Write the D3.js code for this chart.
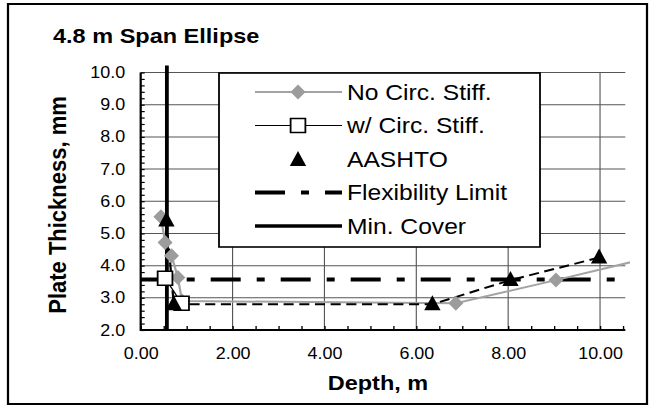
<!DOCTYPE html>
<html><head><meta charset="utf-8">
<script src="https://cdn.jsdelivr.net/npm/d3@7"></script>
<style>
body{margin:0;background:#fff}
svg{display:block}
text{font-family:"Liberation Sans",Arial,Helvetica,sans-serif;fill:#000}
</style>
</head><body>
<svg id="c" width="656" height="414"></svg>
<script>
// ---- data ----
const chartTitle = "4.8 m Span Ellipse";
const xTitle = "Depth, m";
const yTitle = "Plate Thickness, mm";
const depthTicks = [0, 2, 4, 6, 8, 10];
const thicknessTicks = [2, 3, 4, 5, 6, 7, 8, 9, 10];
const legendLabels = ["No Circ. Stiff.", "w/ Circ. Stiff.", "AASHTO", "Flexibility Limit", "Min. Cover"];

const noCircDepth = [0.44, 0.53, 0.67, 0.81, 0.90, 6.86, 9.04, 11.0];
const noCircThk   = [5.52, 4.72, 4.31, 3.63, 2.90, 2.83, 3.55, 4.22];
const wCircDepth  = [0.53, 0.89];
const wCircThk    = [3.61, 2.83];
const aashtoDepth = [0.56, 0.72, 6.35, 8.05, 9.98];
const aashtoThk   = [5.40, 2.80, 2.80, 3.55, 4.25];
const flexLimitThk = 3.57;
const flexLimitDepth = [0, 10.55];
const minCoverDepth = 0.57;
const minCoverThk = [1.98, 10.22];

// ---- layout ----
const SX = 1.12;               // horizontal stretch of the original picture
const px = v => v / SX;
const svg = d3.select("#c");
const g = svg.append("g").attr("transform", `scale(${SX},1)`);

g.append("rect").attr("x", px(8)).attr("y", 4).attr("width", px(639)).attr("height", 400)
  .attr("fill", "#fff").attr("stroke", "#000").attr("stroke-width", 2);

const x = d3.scaleLinear().domain([0, 10.55]).range([px(140.7), px(625.3)]);
const y = d3.scaleLinear().domain([2, 10]).range([330, 72.5]);
const [xmin, xmax] = x.domain();

// gridlines
g.append("g").selectAll("line").data(thicknessTicks.filter(d => d > 2)).join("line")
  .attr("x1", x(0)).attr("x2", x(xmax)).attr("y1", d => y(d)).attr("y2", d => y(d))
  .attr("stroke", "#555").attr("stroke-width", 1);
g.append("g").selectAll("line").data(depthTicks.filter(d => d > 0)).join("line")
  .attr("x1", d => x(d)).attr("x2", d => x(d)).attr("y1", y(2)).attr("y2", y(10))
  .attr("stroke", "#555").attr("stroke-width", 1);

// minor ticks
const yMinor = d3.range(2, 10.001, 0.2);
const xMinor = d3.range(0, 10.51, 0.5);
const yAxMinor = g.append("g").attr("transform", `translate(${x(0)},0)`)
  .call(d3.axisLeft(y).tickValues(yMinor).tickSize(-px(4)).tickFormat(""));
yAxMinor.select(".domain").remove();
yAxMinor.selectAll("line").attr("stroke", "#000").attr("stroke-width", 1.2);
const xAxMinor = g.append("g").attr("transform", `translate(0,${y(2)})`)
  .call(d3.axisBottom(x).tickValues(xMinor).tickSize(-4).tickFormat(""));
xAxMinor.select(".domain").remove();
xAxMinor.selectAll("line").attr("stroke", "#000").attr("stroke-width", 1.2);

// tick labels
const yLab = g.append("g").attr("transform", `translate(${x(0)},0)`)
  .call(d3.axisLeft(y).tickValues(thicknessTicks).tickFormat(d3.format(".1f")).tickSize(0).tickPadding(px(15.5)));
yLab.select(".domain").remove();
yLab.selectAll("text").attr("font-size", 16).attr("font-family", null);
const xLab = g.append("g").attr("transform", `translate(0,${y(2)})`)
  .call(d3.axisBottom(x).tickValues(depthTicks).tickFormat(d3.format(".2f")).tickSize(0).tickPadding(18));
xLab.select(".domain").remove();
xLab.selectAll("text").attr("font-size", 16).attr("font-family", null);

// clip for data
g.append("clipPath").attr("id", "clip").append("rect")
  .attr("x", x(0) - 5).attr("y", 55).attr("width", px(630) - x(0) + 5).attr("height", 285);
const plot = g.append("g").attr("clip-path", "url(#clip)");

// flexibility limit
plot.append("line")
  .attr("x1", x(flexLimitDepth[0])).attr("x2", x(flexLimitDepth[1]))
  .attr("y1", y(flexLimitThk)).attr("y2", y(flexLimitThk))
  .attr("stroke", "#000").attr("stroke-width", 4)
  .attr("stroke-dasharray", [px(30), px(16), px(8), px(16)].join(","));

const line = d3.line().x(d => x(d[0])).y(d => y(d[1]));
const noCirc = noCircDepth.map((d, i) => [d, noCircThk[i]]);
const wCirc = wCircDepth.map((d, i) => [d, wCircThk[i]]);
const aashto = aashtoDepth.map((d, i) => [d, aashtoThk[i]]);

plot.append("path").datum(noCirc).attr("d", line)
  .attr("fill", "none").attr("stroke", "#a3a3a3").attr("stroke-width", 2);
plot.append("path").datum(aashto).attr("d", line)
  .attr("fill", "none").attr("stroke", "#000").attr("stroke-width", 2)
  .attr("stroke-dasharray", "9,5");
plot.append("path").datum(wCirc).attr("d", line)
  .attr("fill", "none").attr("stroke", "#000").attr("stroke-width", 1.2);

// min cover
plot.append("line")
  .attr("x1", x(minCoverDepth)).attr("x2", x(minCoverDepth))
  .attr("y1", y(minCoverThk[0])).attr("y2", y(minCoverThk[1]))
  .attr("stroke", "#000").attr("stroke-width", 3.4);

// axes lines
g.append("line").attr("x1", x(0)).attr("x2", x(0)).attr("y1", y(10)).attr("y2", y(2) + 1)
  .attr("stroke", "#000").attr("stroke-width", 2);
g.append("line").attr("x1", x(0)).attr("x2", x(xmax)).attr("y1", y(2)).attr("y2", y(2))
  .attr("stroke", "#000").attr("stroke-width", 2);

// marker shapes
const diamond = "M0,-7.5L6.7,0L0,7.5L-6.7,0Z";
const square = "M-6.6,-7L6.6,-7L6.6,7L-6.6,7Z";
const triangle = "M0,-9L7.3,6L-7.3,6Z";

plot.append("g").selectAll("path").data(noCirc.filter(d => d[0] <= xmax)).join("path")
  .attr("transform", d => `translate(${x(d[0])},${y(d[1])})`).attr("d", diamond)
  .attr("fill", "#9c9c9c");
plot.append("g").selectAll("path").data(wCirc).join("path")
  .attr("transform", d => `translate(${x(d[0])},${y(d[1])})`).attr("d", square)
  .attr("fill", "#fff").attr("stroke", "#000").attr("stroke-width", 1.6);
plot.append("g").selectAll("path").data(aashto).join("path")
  .attr("transform", d => `translate(${x(d[0])},${y(d[1])})`).attr("d", triangle)
  .attr("fill", "#000");

// legend
const lg = g.append("g");
lg.append("rect").attr("x", px(219)).attr("y", 73).attr("width", px(321)).attr("height", 174)
  .attr("fill", "#fff").attr("stroke", "#000").attr("stroke-width", 1.6);
const ly = i => 92 + i * 33.5;
const lx1 = px(255), lx2 = px(342), lxc = px(298);
// row 0
lg.append("line").attr("x1", lx1).attr("x2", lx2).attr("y1", ly(0)).attr("y2", ly(0))
  .attr("stroke", "#a3a3a3").attr("stroke-width", 2);
lg.append("path").attr("transform", `translate(${lxc},${ly(0)})`).attr("d", diamond).attr("fill", "#9c9c9c");
// row 1
lg.append("line").attr("x1", lx1).attr("x2", lx2).attr("y1", ly(1)).attr("y2", ly(1))
  .attr("stroke", "#000").attr("stroke-width", 1.2);
lg.append("path").attr("transform", `translate(${lxc},${ly(1)})`).attr("d", square)
  .attr("fill", "#fff").attr("stroke", "#000").attr("stroke-width", 1.6);
// row 2
lg.append("path").attr("transform", `translate(${lxc},${ly(2)+1})`).attr("d", triangle).attr("fill", "#000");
// row 3
lg.append("line").attr("x1", lx1).attr("x2", lx2).attr("y1", ly(3)).attr("y2", ly(3))
  .attr("stroke", "#000").attr("stroke-width", 4)
  .attr("stroke-dasharray", [px(30), px(16), px(8), px(16)].join(","));
// row 4
lg.append("line").attr("x1", lx1).attr("x2", lx2).attr("y1", ly(4)).attr("y2", ly(4))
  .attr("stroke", "#000").attr("stroke-width", 3.5);
lg.selectAll("text.lt").data(legendLabels).join("text").attr("class", "lt")
  .attr("x", px(347)).attr("y", (d, i) => ly(i)).attr("dy", "0.36em")
  .attr("font-size", 22).text(d => d);

// titles
g.append("text").attr("x", px(53)).attr("y", 43).attr("font-size", 21).attr("font-weight", "bold")
  .text(chartTitle);
g.append("text").attr("x", px(378)).attr("y", 390).attr("text-anchor", "middle")
  .attr("font-size", 21).attr("font-weight", "bold").text(xTitle);
g.append("text").attr("transform", `translate(${px(66)},205) rotate(-90)`).attr("text-anchor", "middle")
  .attr("font-size", 22).attr("font-weight", "bold").text(yTitle);
</script>
</body></html>
